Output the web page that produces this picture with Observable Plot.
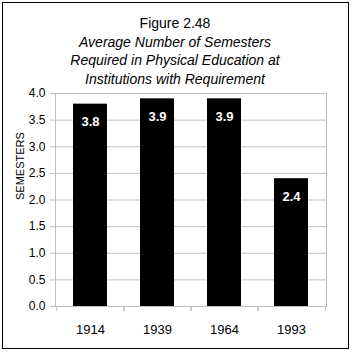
<!DOCTYPE html>
<html>
<head>
<meta charset="utf-8">
<script src="https://cdn.jsdelivr.net/npm/d3@7"></script>
<script src="https://cdn.jsdelivr.net/npm/@observablehq/plot@0.6"></script>
<style>
  html, body { margin: 0; padding: 0; background: #fff; }
  #wrap { position: relative; width: 352px; height: 352px; font-family: "Liberation Sans", Arial, sans-serif; }
  #box { position: absolute; left: 2px; top: 2px; width: 347px; height: 347px; border: 1px solid #000; box-sizing: border-box; }
  #titles { position: absolute; left: 0; top: 14px; width: 350px; text-align: center; font-size: 14px; line-height: 18.7px; color: #000; }
  #titles .sub { font-style: italic; }
  #chart { position: absolute; left: 0; top: 0; }
</style>
</head>
<body>
<div id="wrap">
  <div id="box"></div>
  <div id="chart"></div>
  <div id="titles">
    <div>Figure 2.48</div>
    <div class="sub">Average Number of Semesters</div>
    <div class="sub">Required in Physical Education at</div>
    <div class="sub">Institutions with Requirement</div>
  </div>
</div>
<script>
const years = ["1914", "1939", "1964", "1993"];
const semesters = [3.8, 3.9, 3.9, 2.4];
const yTicks = [0, 0.5, 1, 1.5, 2, 2.5, 3, 3.5, 4];
const yLabel = "SEMESTERS";

const data = years.map((year, i) => ({year, value: semesters[i]}));

const W = 352, H = 352, mL = 55, mR = 26, mT = 93, mB = 46;
const step = (W - mL - mR) / years.length;
const grey = "#c0c0c0";

const chart = Plot.plot({
  width: W,
  height: H,
  marginLeft: mL,
  marginRight: mR,
  marginTop: mT,
  marginBottom: mB,
  style: {background: "transparent", fontFamily: "Liberation Sans, Arial, sans-serif", color: "#000"},
  x: {type: "band", domain: years, paddingInner: 0.5, paddingOuter: 0.25},
  y: {domain: [0, 4]},
  marks: [
    Plot.gridY(yTicks, {stroke: grey, strokeOpacity: 1}),
    Plot.frame({anchor: "left", stroke: grey}),
    Plot.frame({anchor: "right", stroke: grey}),
    Plot.axisY({ticks: yTicks, tickFormat: d3.format(".1f"), tickSize: 5, tickPadding: 5, stroke: grey, fill: "#000", fontSize: 12, label: null}),
    Plot.axisX({tickFormat: () => "", tickSize: 5, dx: -step / 2, stroke: grey, label: null}),
    Plot.axisX({tickFormat: () => "", tickSize: 5, dx: step / 2, stroke: grey, label: null}),
    Plot.axisX({tickSize: 0, tickPadding: 18, fontSize: 13, fill: "#000", label: null}),
    Plot.ruleY([0], {stroke: grey}),
    Plot.barY(data, {x: "year", y: "value", fill: "#000"}),
    Plot.text(data, {x: "year", y: "value", text: d => d3.format(".1f")(d.value), dy: 18, fill: "#fff", fontWeight: "bold", fontSize: 13}),
    Plot.text([yLabel], {frameAnchor: "left", text: d => d, rotate: -90, dx: -35, dy: 0, fontSize: 11, fill: "#000"})
  ]
});
document.getElementById("chart").appendChild(chart);
</script>
</body>
</html>
